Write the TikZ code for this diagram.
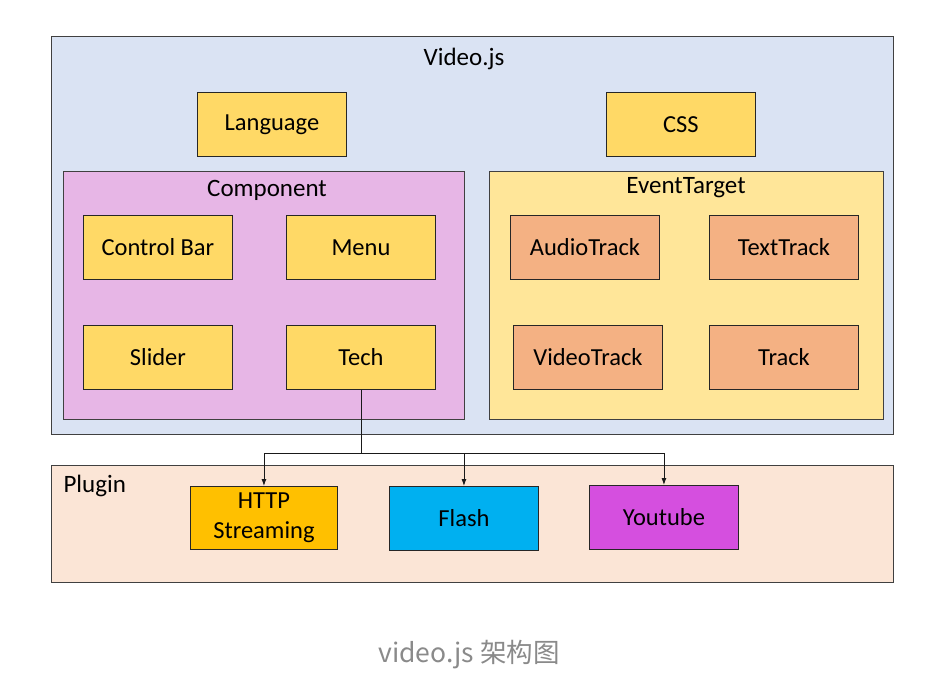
\documentclass[tikz,border=0pt]{standalone}
\usepackage{fontspec}
\setmainfont{Carlito}
\newfontfamily\cjk{Noto Sans CJK SC}
\usetikzlibrary{arrows.meta}
\begin{document}
\begin{tikzpicture}[x=1pt,y=-1pt,
  box/.style={draw=black!85, line width=0.9pt, minimum width=149pt, minimum height=64pt, inner sep=0pt, anchor=north west, font=\fontsize{24.5}{30}\selectfont, align=center},
  grp/.style={draw=black!75, line width=0.9pt, anchor=north west, inner sep=0pt},
  ttl/.style={font=\fontsize{25}{28}\selectfont},
  yel/.style={box, fill=ylw},
  org/.style={box, fill=orng},
  arr/.style={-{Latex[length=7pt,width=5pt]}, line width=0.9pt, draw=black!90}
]
\definecolor{bluebg}{HTML}{DAE3F3}
\definecolor{ylw}{HTML}{FFD966}
\definecolor{pink}{HTML}{E7B6E6}
\definecolor{ltyel}{HTML}{FFE699}
\definecolor{orng}{HTML}{F4B183}
\definecolor{peach}{HTML}{FBE5D6}
\definecolor{gold}{HTML}{FFC000}
\definecolor{cyan2}{HTML}{00B0F0}
\definecolor{magn}{HTML}{D54FDF}
\definecolor{capgray}{HTML}{8A8A8A}
\useasboundingbox (0,0) rectangle (936,680);
\fill[white] (0,0) rectangle (936,680);
% Video.js container
\node[grp, fill=bluebg, minimum width=842pt, minimum height=398pt] (vjs) at (51,36) {};
\node[ttl] (vjst) at (464,59) {Video.js};
\node[yel] (lang) at (197,92) {Language};
\node[yel] (css) at (606,92) {CSS};
% Component
\node[grp, fill=pink, minimum width=401pt, minimum height=248pt] (comp) at (63,171) {};
\node[ttl] (compt) at (267,190) {Component};
\node[yel] (cbar) at (83,215) {Control Bar};
\node[yel] (menu) at (286,215) {Menu};
\node[yel] (slider) at (83,325) {Slider};
\node[yel] (tech) at (286,325) {Tech};
% EventTarget
\node[grp, fill=ltyel, minimum width=394pt, minimum height=248pt] (evt) at (489,171) {};
\node[ttl] (evtt) at (686,188) {EventTarget};
\node[org] (audio) at (510,215) {AudioTrack};
\node[org] (text) at (709,215) {TextTrack};
\node[org] (video) at (513,325) {VideoTrack};
\node[org] (track) at (709,325) {Track};
% Plugin
\node[grp, fill=peach, minimum width=842pt, minimum height=117pt] (plug) at (51,465) {};
\node[ttl, anchor=west] (plugt) at (60,486) {Plugin};
\node[box, fill=gold, minimum width=147pt, minimum height=63pt] (http) at (190,486) {HTTP\\Streaming};
\node[box, fill=cyan2] (flash) at (389,486) {Flash};
\node[box, fill=magn] (yt) at (589,485) {Youtube};
% connectors
\coordinate (j) at ([yshift=-64pt]tech.south);
\draw[line width=0.9pt, draw=black!90] (tech.south) -- (j);
\draw[arr] (j) -| (http.north);
\draw[arr] (j) -| (flash.north);
\draw[arr] (j) -| (yt.north);
% caption
\node[text=capgray, font=\cjk\fontsize{26.5}{30}\selectfont] (cap) at (469,655) {video.js 架构图};
\end{tikzpicture}
\end{document}
